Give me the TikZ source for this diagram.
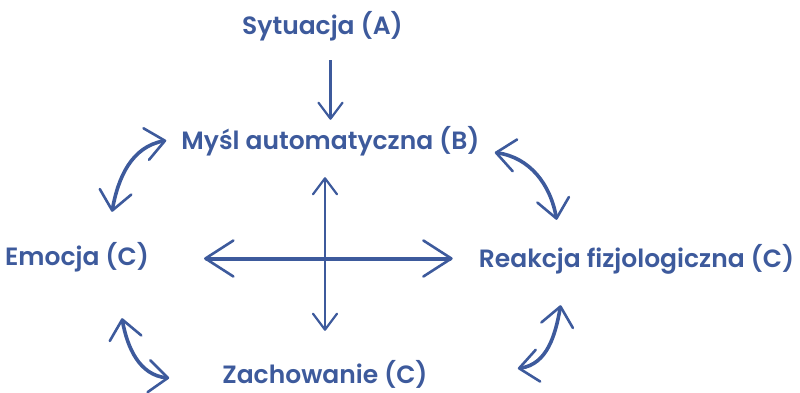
\documentclass[tikz,border=0pt]{standalone}
\usepackage{fontspec}
\setmainfont{Poppins}[UprightFont=* SemiBold]
\usepackage{tikz}
\usetikzlibrary{arrows.meta,positioning,calc}
\definecolor{cB}{HTML}{3d5a9c}
\tikzset{
  hdL/.tip={Straight Barb[length=28pt,width=36pt,line width'=2.6pt,round]},
  hdM/.tip={Straight Barb[length=19pt,width=32pt,line width'=2.6pt,round]},
  hdS/.tip={Straight Barb[length=16pt,width=24pt,line width'=2.2pt,round]},
  lbl/.style={text=cB,inner sep=0pt,anchor=base,text height=18pt,text depth=5pt,
              font=\fontsize{25}{30}\selectfont},
  feed/.style={-hdS,line width=2.4pt,cB},
  cross/.style={hdL-hdL,line width=4pt,cB,line cap=round},
  vline/.style={hdS-hdS,line width=2.4pt,cB},
  swing/.style={hdM-hdM,line width=3.6pt,cB,line cap=round},
}

\begin{document}
\begin{tikzpicture}[x=1pt,y=1pt]
  \useasboundingbox (0,0) rectangle (800,392);
  \node[lbl] (sit) at (322.5,357) {Sytuacja (A)};
  \node[lbl] (mysl) at (330.5,243) {Myśl automatyczna (B)};
  \node[lbl] (emo) at (77,127) {Emocja (C)};
  \node[lbl] (reak) at (636.5,125) {Reakcja fizjologiczna (C)};
  \node[lbl] (zach) at (325,9) {Zachowanie (C)};

  \draw[feed,shorten <=20pt,shorten >=11pt] (mysl.north |- sit.south) -- (mysl.north);

  % the cross in the middle
  \draw[cross,shorten <=55pt,shorten >=26pt] (emo.east) -- (emo.east -| reak.west);
  \draw[vline,shorten <=23pt,shorten >=34pt] (zach.north |- mysl.south) -- (zach.north);

  % the four swings round the ring
  \draw[swing] ([shift={(35,35)}]emo.north) to[out=80,in=190] ([shift={(-15,2)}]mysl.west);
  \draw[swing] ([shift={(15,-10)}]mysl.east) to[out=-8,in=100] ([shift={(78,29)}]reak.north west);
  \draw[swing] ([shift={(45,-48)}]emo.south) to[out=-80,in=175] ([shift={(-53,-1.5)}]zach.west);
  \draw[swing] ([shift={(90,8)}]zach.east) to[out=8,in=-100] ([shift={(82,-33)}]reak.south west);
\end{tikzpicture}
\end{document}
